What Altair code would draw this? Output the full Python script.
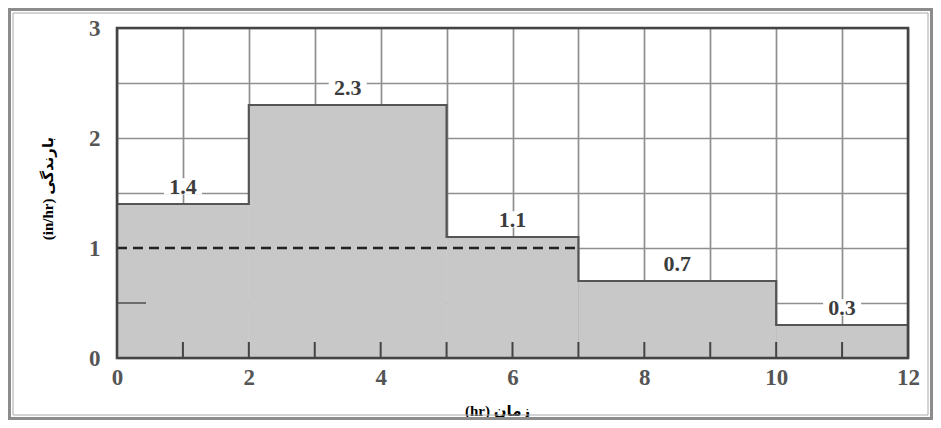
import altair as alt
import pandas as pd

# ---- data ----
starts = [0, 2, 5, 7, 10]
ends = [2, 5, 7, 10, 12]
intensity = [1.4, 2.3, 1.1, 0.7, 0.3]
bar_labels = ["1.4", "2.3", "1.1", "0.7", "0.3"]
phi_index = 1.0
phi_end = 7
x_tick_values = list(range(0, 13))
x_inner_ticks = list(range(1, 12))
y_tick_values = [0, 0.5, 1, 1.5, 2, 2.5, 3]
y_inner_ticks = [0.5]
x_title = "(hr) زمان"
y_title = "(in/hr) بارندگی"

W, H = 791, 330
SERIF = "Liberation Serif"
TITLE_FONT = "Liberation Serif, DejaVu Sans"

bars_df = pd.DataFrame({"start": starts, "end": ends, "value": intensity, "label": bar_labels})
bars_df["mid"] = (bars_df["start"] + bars_df["end"]) / 2
step_df = pd.DataFrame({"t": starts + [ends[-1]], "v": intensity + [intensity[-1]]})
xt_df = pd.DataFrame({"t": x_inner_ticks})
yt_df = pd.DataFrame({"v": y_inner_ticks})
phi_df = pd.DataFrame({"x0": [0], "x1": [phi_end], "y": [phi_index]})
one = alt.Data(values=[{}])

xs = alt.Scale(domain=[0, 12], nice=False)
ys = alt.Scale(domain=[0, 3], nice=False)

x_axis = alt.Axis(
    values=x_tick_values,
    labelExpr="datum.value % 2 == 0 ? format(datum.value, 'd') : ''",
    grid=True, gridColor="#8f8f8f", gridWidth=1.7,
    ticks=False, tickSize=0, domain=False,
    labelFont=SERIF, labelFontSize=23, labelFontWeight="bold", labelColor="#555555",
    labelPadding=8, labelFlush=False, labelOverlap=False,
    title=x_title, titleFont=TITLE_FONT, titleFontSize=15, titleFontWeight="bold",
    titleColor="#000000", titleX=380, titleY=45, titleAlign="center", titleBaseline="top",
)
y_axis = alt.Axis(
    values=y_tick_values,
    labelExpr="datum.value % 1 == 0 ? format(datum.value, 'd') : ''",
    grid=True, gridColor="#8f8f8f", gridWidth=1.6,
    ticks=False, tickSize=0, domain=False,
    labelFont=SERIF, labelFontSize=23, labelFontWeight="bold", labelColor="#555555",
    labelPadding=17, labelFlush=False, labelOverlap=False,
    title=y_title, titleFont=TITLE_FONT, titleFontSize=15, titleFontWeight="bold",
    titleColor="#000000", titleX=-62, titleY=160, titleAlign="center", titleBaseline="bottom",
)

bars = alt.Chart(bars_df).mark_rect(fill="#c8c8c8", strokeWidth=0).encode(
    x=alt.X("start:Q", scale=xs, axis=x_axis),
    x2="end:Q",
    y=alt.Y("value:Q", scale=ys, axis=y_axis),
    y2=alt.datum(0),
)

outline = alt.Chart(step_df).mark_line(interpolate="step-after", color="#555555", strokeWidth=2.2).encode(
    x=alt.X("t:Q", scale=xs),
    y=alt.Y("v:Q", scale=ys),
)

boxes = alt.Chart(bars_df).mark_point(
    shape="M-1,-1.35H1V-0.5H-1Z", filled=True, fill="#ffffff", opacity=1, size=1444, strokeWidth=0
).encode(
    x=alt.X("mid:Q", scale=xs),
    y=alt.Y("value:Q", scale=ys),
)

texts = alt.Chart(bars_df).mark_text(
    dy=-17, font=SERIF, fontSize=22, fontWeight="bold", color="#3c3c3c", baseline="middle", align="center"
).encode(
    x=alt.X("mid:Q", scale=xs),
    y=alt.Y("value:Q", scale=ys),
    text="label:N",
)

xticks = alt.Chart(xt_df).mark_rule(color="#444444", strokeWidth=2).encode(
    x=alt.X("t:Q", scale=xs),
    y=alt.value(H),
    y2=alt.value(H - 16),
)

yticks = alt.Chart(yt_df).mark_rule(color="#555555", strokeWidth=1.6).encode(
    y=alt.Y("v:Q", scale=ys),
    x=alt.value(0),
    x2=alt.value(29),
)

phi = alt.Chart(phi_df).mark_rule(color="#222222", strokeWidth=2.6, strokeDash=[10, 6]).encode(
    x=alt.X("x0:Q", scale=xs),
    x2="x1:Q",
    y=alt.Y("y:Q", scale=ys),
)

border = alt.Chart(one).mark_rect(filled=False, stroke="#444444", strokeWidth=2.6).encode(
    x=alt.value(0), x2=alt.value(W), y=alt.value(0), y2=alt.value(H),
)

frame_outer = alt.Chart(one).mark_rect(filled=False, stroke="#8c8c8c", strokeWidth=3).encode(
    x=alt.value(-107.5), x2=alt.value(814.5), y=alt.value(-18.5), y2=alt.value(390.5),
)
frame_inner = alt.Chart(one).mark_rect(filled=False, stroke="#a8a8a8", strokeWidth=1).encode(
    x=alt.value(-104), x2=alt.value(811), y=alt.value(-15), y2=alt.value(387),
)

chart = alt.layer(
    bars, outline, boxes, texts, xticks, yticks, phi, border, frame_outer, frame_inner
).properties(
    width=W, height=H,
    autosize=alt.AutoSizeParams(type="none"),
    padding={"left": 109, "top": 20, "right": 25, "bottom": 62},
    background="#ffffff",
).configure_view(strokeWidth=0)

chart.save("out.html", embed_options={"renderer": "svg", "actions": False})
